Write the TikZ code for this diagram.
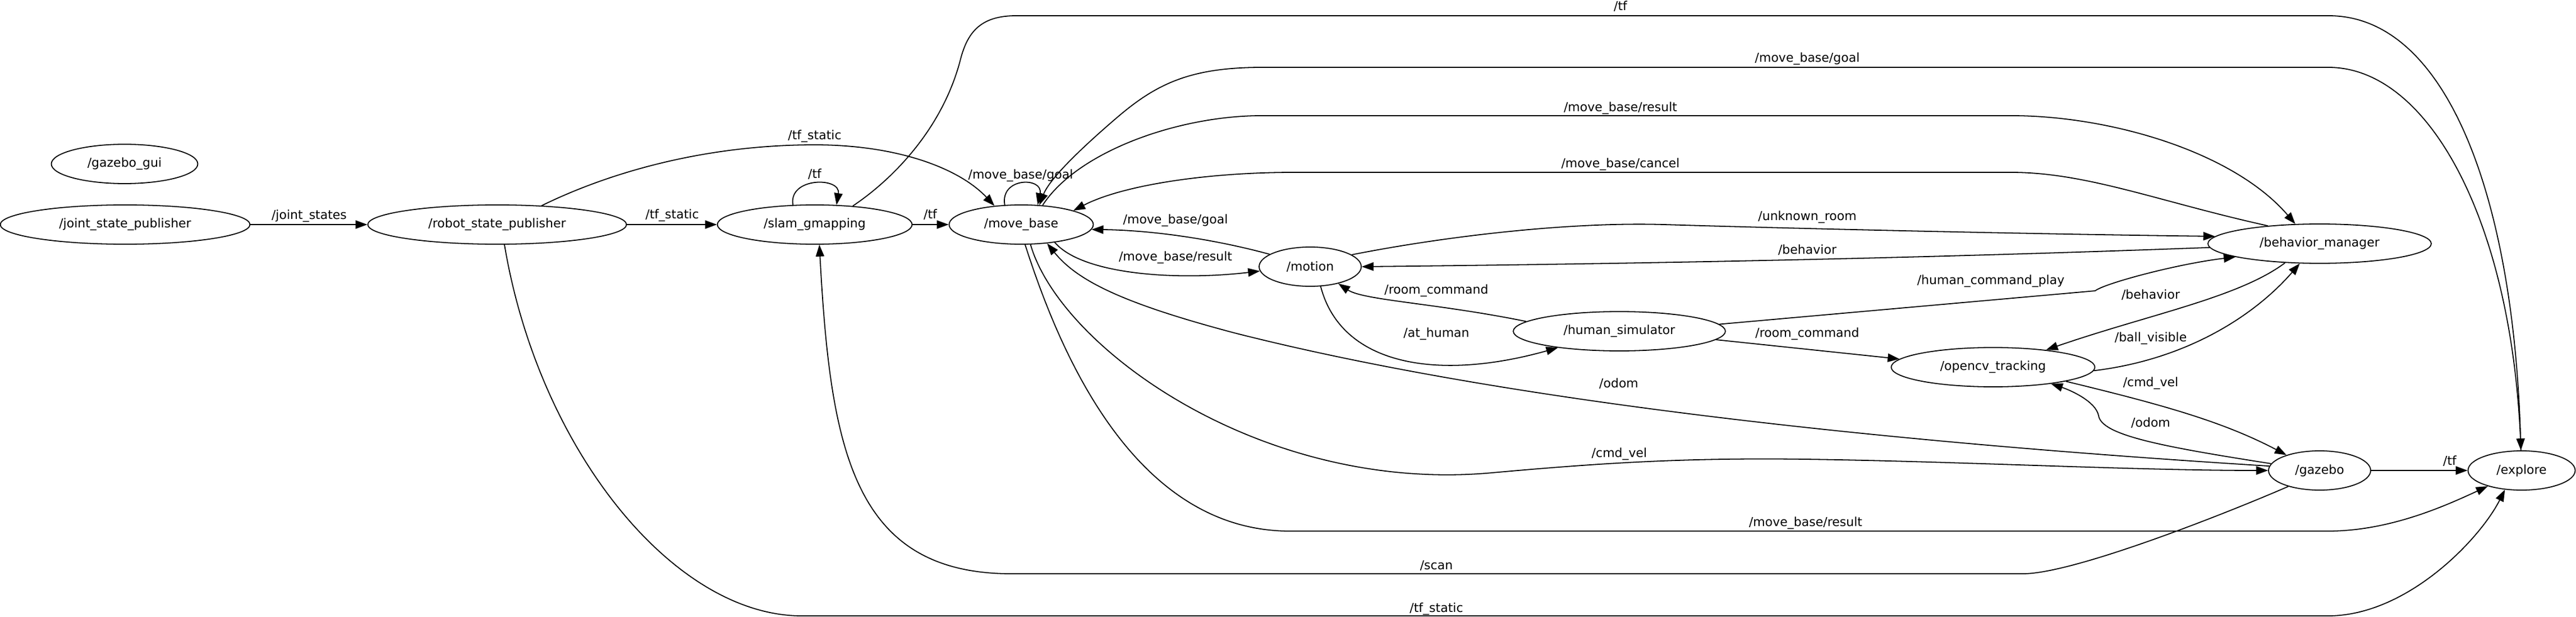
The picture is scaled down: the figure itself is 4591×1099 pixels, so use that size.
\documentclass[tikz,border=0pt]{standalone}
\usepackage{fontspec}
\setmainfont{DejaVu Sans}
\usetikzlibrary{shapes.geometric,arrows.meta}
\tikzset{
  nd/.style={draw, ellipse, line width=1.8pt, minimum height=70pt, inner sep=0pt},
  lab/.style={inner sep=0pt, text height=16pt, text depth=5pt},
  conn/.style={draw, line width=1.8pt, -{Triangle[length=21pt,width=15pt]}},
}
\begin{document}
\begin{tikzpicture}[x=1pt, y=-1pt, font=\fontsize{22}{26}\selectfont]
\useasboundingbox (0,0) rectangle (4591,1099);
% nodes
\node[nd, minimum width=261pt] (gui)    at (222,292)  {/gazebo\_gui};
\node[nd, minimum width=445pt] (jsp)    at (223,400)  {/joint\_state\_publisher};
\node[nd, minimum width=461pt] (rsp)    at (886,400)  {/robot\_state\_publisher};
\node[nd, minimum width=347pt] (slam)   at (1452,400) {/slam\_gmapping};
\node[nd, minimum width=257pt] (mb)     at (1820,400) {/move\_base};
\node[nd, minimum width=182pt] (motion) at (2335,475) {/motion};
\node[nd, minimum width=378pt] (hs)     at (2886,590) {/human\_simulator};
\node[nd, minimum width=398pt] (bm)     at (4134,434) {/behavior\_manager};
\node[nd, minimum width=363pt] (ot)     at (3552,654) {/opencv\_tracking};
\node[nd, minimum width=182pt] (gz)     at (4134,838) {/gazebo};
\node[nd, minimum width=191pt] (ex)     at (4494,838) {/explore};
% edges
\draw[conn] (jsp) -- (rsp);
\draw[conn] (rsp) -- (slam);
\draw[conn] (slam.138) .. controls (1405,315) and (1499,315) .. (slam.42);
\draw[conn] (slam) -- (mb);
\draw[conn] (mb.130) .. controls (1782,315) and (1860,315) .. (mb.50);
\draw[conn] (rsp.23) .. controls (1080,310) and (1250,258) .. (1452,258)
   .. controls (1600,258) and (1710,300) .. (mb.145);
\draw[conn] (slam.26.5) .. controls (1590,320) and (1680,230) .. (1712,105)
   .. controls (1725,55) and (1750,28) .. (1811,28) -- (4150,28)
   .. controls (4360,28) and (4480,350) .. (ex.92);
\draw[conn] (ex.92) .. controls (4480,400) and (4330,120) .. (4150,120) -- (2249,120)
   .. controls (2120,120) and (2060,150) .. (1990,210)
   .. controls (1920,270) and (1870,320) .. (mb.47);
\draw[conn] (mb.42) .. controls (1920,270) and (2100,206) .. (2249,206) -- (3584,206)
   .. controls (3760,206) and (3980,270) .. (bm.141.5);
\draw[conn] (bm.161) .. controls (3850,360) and (3720,307) .. (3584,307) -- (2306,307)
   .. controls (2150,307) and (2000,330) .. (mb.15);
\draw[conn] (motion.163) .. controls (2160,425) and (2050,410) .. (mb.-4);
\draw[conn] (mb.-28) .. controls (1930,490) and (2100,500) .. (motion.-175);
\draw[conn] (motion.16.6) .. controls (2580,420) and (2800,395) .. (2965,400)
   .. controls (3300,410) and (3700,418) .. (bm.176.7);
\draw[conn] (bm.182.3) .. controls (3400,461) and (2900,470) .. (motion.0);
\draw[conn] (hs.174.9) .. controls (2560,540) and (2430,535) .. (motion.-31);
\draw[conn] (motion.-62.3) .. controls (2390,650) and (2560,680) .. (hs.195.5);
\draw[conn] (hs.-5) -- (ot.175.1);
\draw[conn] (hs.4.3) -- (3734,518) .. controls (3750,505) and (3880,470) .. (bm.-171);
\draw[conn] (bm.-151.8) .. controls (3990,530) and (3830,560) .. (ot.18.4);
\draw[conn] (ot.-2) .. controls (3900,640) and (4020,560) .. (bm.-135.5);
\draw[conn] (ot.-11) .. controls (3850,720) and (3960,750) .. (gz.155);
\draw[conn] (gz.172) .. controls (3850,795) and (3745,775) .. (3740,740)
   .. controls (3735,715) and (3690,695) .. (ot.-16);
\draw[conn] (mb.-65) .. controls (1890,620) and (2250,880) .. (2660,842)
   .. controls (2850,825) and (3000,815) .. (3218,818)
   .. controls (3500,822) and (3800,838) .. (gz.180);
\draw[conn] (gz.175) .. controls (3400,790) and (2700,720) .. (2200,593)
   .. controls (2000,540) and (1920,500) .. (mb.-36);
\draw[conn] (mb.-79) .. controls (1880,600) and (2010,946) .. (2299,946) -- (4149,946)
   .. controls (4260,946) and (4360,900) .. (ex.-155);
\draw[conn] (gz.-153) .. controls (3990,905) and (3700,1022) .. (3605,1022) -- (1803,1022)
   .. controls (1520,1022) and (1480,800) .. (slam.-77);
\draw[conn] (rsp.-70) .. controls (960,800) and (1200,1097) .. (1429,1097) -- (4149,1097)
   .. controls (4290,1097) and (4420,960) .. (ex.-131);
\draw[conn] (gz) -- (ex);
% labels
\node[lab] (l1)  at (551,385)   {/joint\_states};
\node[lab] (l2)  at (1198,384)  {/tf\_static};
\node[lab] (l3)  at (1452,312)  {/tf};
\node[lab] (l4)  at (1658,384)  {/tf};
\node[lab] (l5)  at (1819,313)  {/move\_base/goal};
\node[lab] (l6)  at (1452,243)  {/tf\_static};
\node[lab] (l7)  at (2888,13)   {/tf};
\node[lab] (l8)  at (3221,105)  {/move\_base/goal};
\node[lab] (l9)  at (2888,193)  {/move\_base/result};
\node[lab] (l10) at (2888,293)  {/move\_base/cancel};
\node[lab] (l11) at (2095,393)  {/move\_base/goal};
\node[lab] (l12) at (2095,459)  {/move\_base/result};
\node[lab] (l13) at (3221,387)  {/unknown\_room};
\node[lab] (l14) at (3221,447)  {/behavior};
\node[lab] (l15) at (2560,518)  {/room\_command};
\node[lab] (l16) at (2560,595)  {/at\_human};
\node[lab] (l17) at (3221,595)  {/room\_command};
\node[lab] (l18) at (3548,501)  {/human\_command\_play};
\node[lab] (l19) at (3833,527)  {/behavior};
\node[lab] (l20) at (3833,603)  {/ball\_visible};
\node[lab] (l21) at (3833,683)  {/cmd\_vel};
\node[lab] (l22) at (3833,755)  {/odom};
\node[lab] (l23) at (4366,823)  {/tf};
\node[lab] (l24) at (2886,809)  {/cmd\_vel};
\node[lab] (l25) at (2885,685)  {/odom};
\node[lab] (l26) at (3218,932)  {/move\_base/result};
\node[lab] (l27) at (2560,1009) {/scan};
\node[lab] (l28) at (2560,1085) {/tf\_static};
\end{tikzpicture}
\end{document}
